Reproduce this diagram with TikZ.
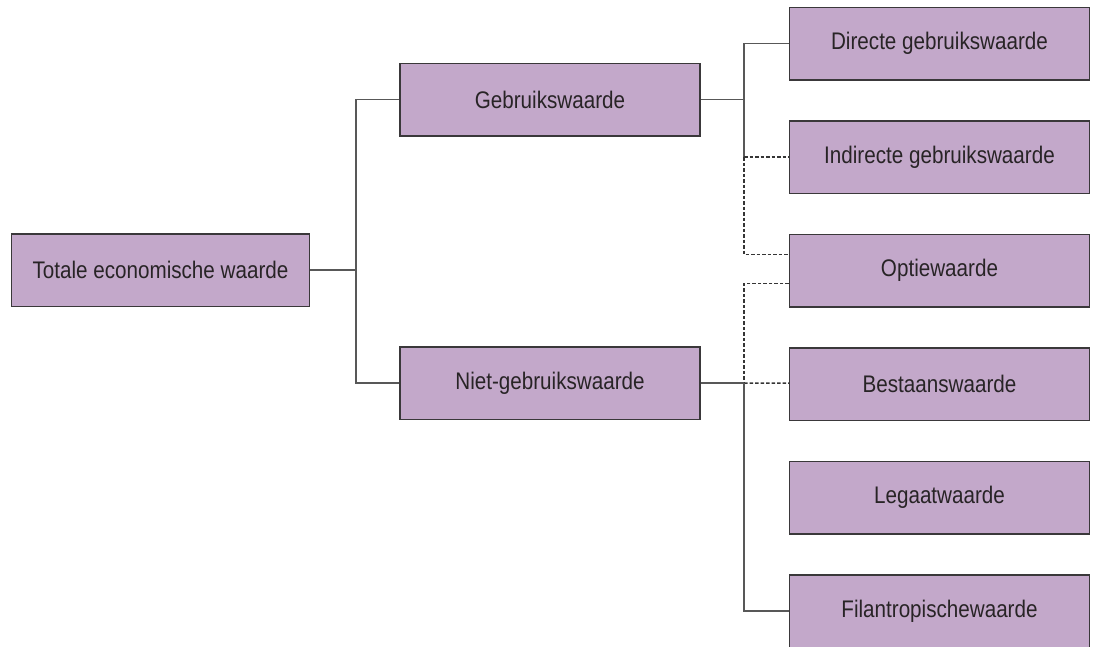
\documentclass[tikz,border=0pt]{standalone}
\usepackage{fontspec}
\setmainfont{Liberation Sans}[FakeStretch=0.86]
\usetikzlibrary{positioning}
\definecolor{lila}{RGB}{195,168,202}
\definecolor{rand}{RGB}{58,56,58}
\definecolor{lijn}{RGB}{88,88,88}
\definecolor{tekst}{RGB}{40,36,38}

\begin{document}
\begin{tikzpicture}[x=1pt,y=-1pt,node distance=39.5pt]

\tikzstyle{block}=[rectangle,draw=rand,line width=1.5pt,fill=lila,minimum width=300pt,minimum height=72.5pt,inner sep=0pt,text=tekst,font=\fontsize{24}{28}\selectfont]
\tikzstyle{line}=[draw=lijn,line width=1.5pt]
\tikzstyle{optline}=[draw=lijn!60!black,line width=1.5pt,dash pattern=on 3.5pt off 2pt]

\useasboundingbox (0,0) rectangle (1093,646);

\node (totale) [block,minimum width=298pt] at (160.5,270) {Totale economische waarde};

\node (gebruik) [block] at (550,99.5) {Gebruikswaarde};
\node (niet) [block] at (550,383) {Niet-gebruikswaarde};

\node (directe) [block] at (939.5,43.5) {Directe gebruikswaarde};
\node (indirecte) [block,below=of directe] {Indirecte gebruikswaarde};
\node (optie) [block,below=of indirecte] {Optiewaarde};
\node (bestaan) [block,below=of optie] {Bestaanswaarde};
\node (legaat) [block,below=of bestaan] {Legaatwaarde};
\node (filantroop) [block,below=of legaat] {Filantropischewaarde};

\coordinate (split) at (356,270);
\coordinate (splitG) at (744,99.5);
\coordinate (splitN) at (744,383);
\coordinate (turnI) at (splitG |- indirecte.west);

\draw[line] (totale) -- (split);
\draw[line] (gebruik.west) -| (split) |- (niet.west);

\draw[line] (gebruik) -- (splitG);
\draw[line] (directe.west) -| (splitG) -- (turnI);
\draw[optline] (turnI) -- (indirecte.west);
\draw[optline] (turnI) |- ([yshift=16pt]optie.west);
\draw[optline] ([yshift=-13pt]optie.west) -| (splitN);

\draw[line] (niet) -- (splitN);
\draw[optline] (splitN) -- (bestaan);
\draw[line] (splitN) |- (filantroop.west);

\end{tikzpicture}
\end{document}
